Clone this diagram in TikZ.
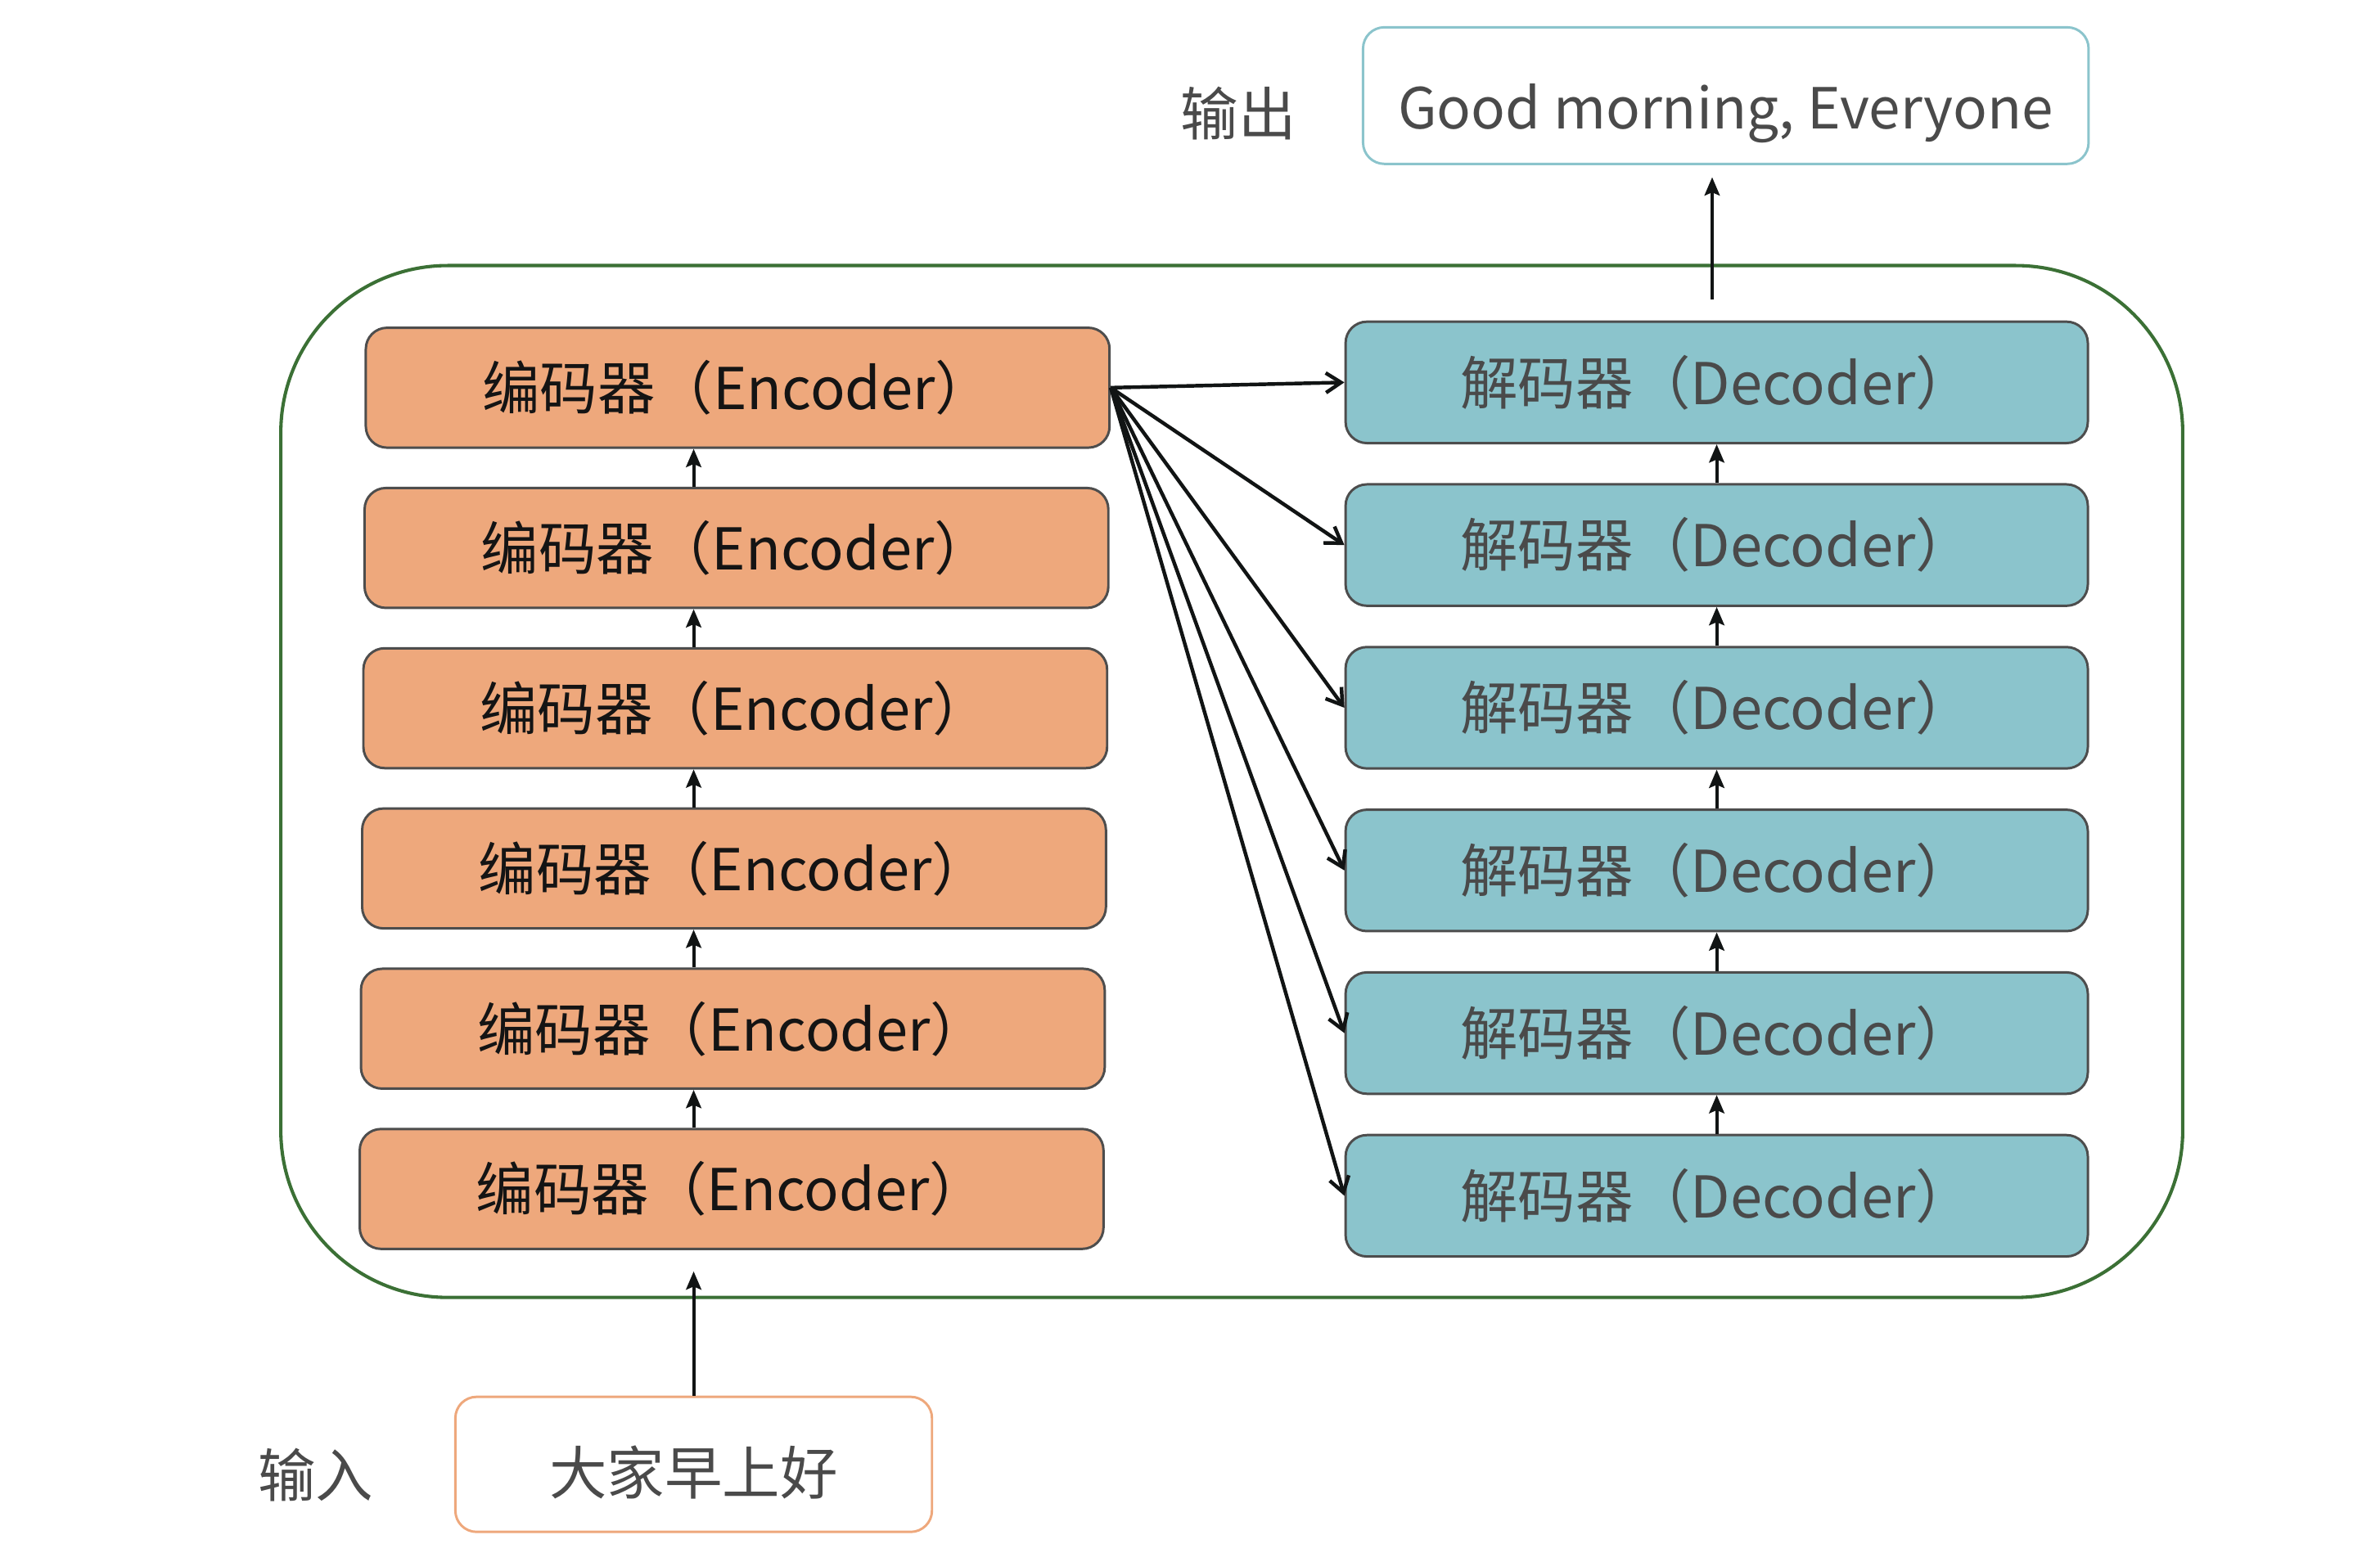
\documentclass[tikz,border=0pt]{standalone}
\usepackage{fontspec}
\usepackage{xcolor}
\usepackage{tikz}
\usetikzlibrary{arrows.meta,positioning}
\newfontfamily\cjk{Noto Sans CJK SC}
\definecolor{EncOrange}{HTML}{EEA87C}
\definecolor{DecTeal}{HTML}{8BC4CC}
\definecolor{BoxGray}{HTML}{4D4D4D}
\definecolor{TextGray}{HTML}{4A4A4A}
\definecolor{FrameGreen}{HTML}{3B7035}
\definecolor{ArrowBlack}{HTML}{111414}

\begin{document}
\begin{tikzpicture}[x=1pt, y=1pt, every node/.style={font=\cjk\fontsize{38}{40}\selectfont, text=TextGray},
    encbox/.style={draw=BoxGray, line width=1.6pt, rounded corners=14pt, fill=EncOrange, minimum width=490pt, minimum height=79pt, text=black!92},
    decbox/.style={draw=BoxGray, line width=1.6pt, rounded corners=14pt, fill=DecTeal, minimum width=489pt, minimum height=80pt},
    uparrow/.style={draw=ArrowBlack, line width=2.2pt, -{Stealth[length=12pt, width=10pt, inset=2pt]}},
    crossarrow/.style={draw=ArrowBlack, line width=2.4pt, -{Straight Barb[length=10pt, width=13pt]}}]
    \useasboundingbox (0,0) rectangle (1568,1023);
    \draw[FrameGreen, line width=2.2pt, rounded corners=110pt] (185,168) rectangle (1438,848);
    \node[encbox] (enc1) at (486,767.5) {编码器（Encoder）};
    \node[encbox, below=25pt of enc1, xshift=-0.8pt] (enc2) {编码器（Encoder）};
    \node[encbox, below=25pt of enc2, xshift=-0.8pt] (enc3) {编码器（Encoder）};
    \node[encbox, below=25pt of enc3, xshift=-0.8pt] (enc4) {编码器（Encoder）};
    \node[encbox, below=25pt of enc4, xshift=-0.8pt] (enc5) {编码器（Encoder）};
    \node[encbox, below=25pt of enc5, xshift=-0.8pt] (enc6) {编码器（Encoder）};
    \node[decbox] (dec1) at (1131,771) {解码器（Decoder）};
    \node[decbox, below=25.6pt of dec1] (dec2) {解码器（Decoder）};
    \node[decbox, below=25.6pt of dec2] (dec3) {解码器（Decoder）};
    \node[decbox, below=25.6pt of dec3] (dec4) {解码器（Decoder）};
    \node[decbox, below=25.6pt of dec4] (dec5) {解码器（Decoder）};
    \node[decbox, below=25.6pt of dec5] (dec6) {解码器（Decoder）};
    \node[draw=DecTeal, line width=1.6pt, rounded corners=14pt, minimum width=478pt, minimum height=90pt, text height=50pt, text depth=6pt, font=\cjk\fontsize{37.3}{40}\selectfont] (out) at (1137,960) {Good morning, Everyone};
    \node[inner sep=0pt, left=43pt of out, yshift=-12pt] (outlabel) {输出};
    \node[draw=EncOrange, line width=1.6pt, rounded corners=14pt, minimum width=314pt, minimum height=89pt, text height=43pt, text depth=3pt] (in) at (457,58) {大家早上好};
    \node[inner sep=0pt, left=53pt of in, yshift=-7pt] (inlabel) {输入};
    \draw[uparrow, shorten >=14pt] (in) -- (in |- enc6.south);
    \draw[uparrow] (enc6.north -| in) -- (enc5.south -| in);
    \draw[uparrow] (enc5.north -| in) -- (enc4.south -| in);
    \draw[uparrow] (enc4.north -| in) -- (enc3.south -| in);
    \draw[uparrow] (enc3.north -| in) -- (enc2.south -| in);
    \draw[uparrow] (enc2.north -| in) -- (enc1.south -| in);
    \draw[uparrow] (dec6) -- (dec5);
    \draw[uparrow] (dec5) -- (dec4);
    \draw[uparrow] (dec4) -- (dec3);
    \draw[uparrow] (dec3) -- (dec2);
    \draw[uparrow] (dec2) -- (dec1);
    \draw[uparrow, shorten <=14pt, shorten >=8pt] ([xshift=-3pt]dec1.north) -- ([xshift=-3pt]dec1.north |- out.south);
    \draw[crossarrow] (enc1.east) -- (dec1.west);
    \draw[crossarrow] (enc1.east) -- (dec2.west);
    \draw[crossarrow] (enc1.east) -- (dec3.west);
    \draw[crossarrow] (enc1.east) -- (dec4.west);
    \draw[crossarrow] (enc1.east) -- (dec5.west);
    \draw[crossarrow] (enc1.east) -- (dec6.west);
  \end{tikzpicture}
\end{document}
